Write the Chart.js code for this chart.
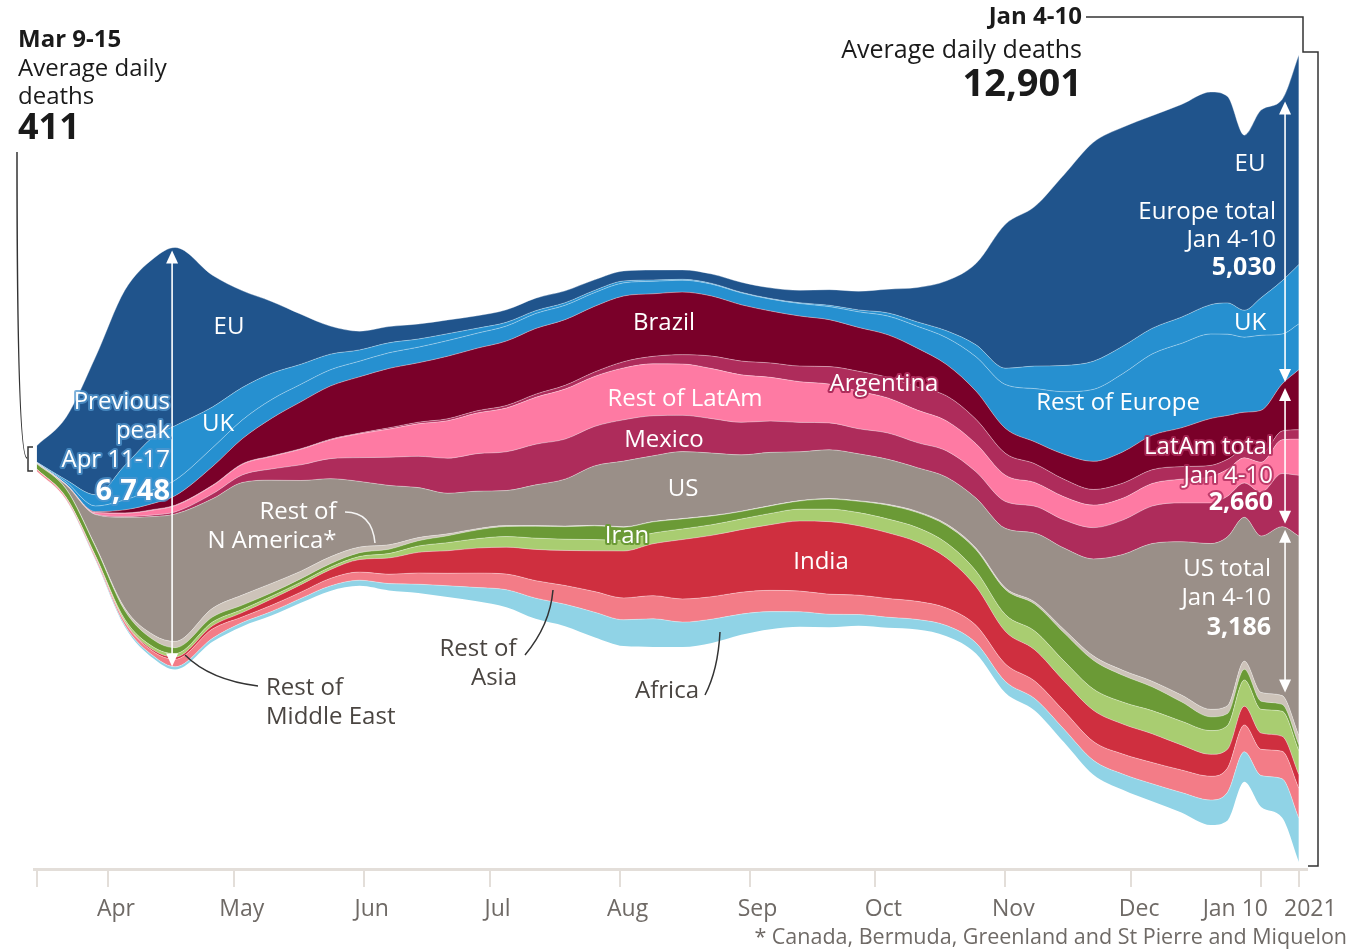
<!DOCTYPE html>
<html>
<head>
<meta charset="utf-8">
<script src="https://cdn.jsdelivr.net/npm/chart.js@4.4.1/dist/chart.umd.min.js"></script>
<style>
  html, body { margin: 0; padding: 0; background: #fff; }
  #wrap { position: relative; width: 1352px; height: 950px; }
</style>
</head>
<body>
<div id="wrap"><canvas id="chart" width="1352" height="950"></canvas></div>
<script>
// week-ending dates of the 7-day averages (average daily deaths)
const dates = [
  '2020-03-15','2020-03-22','2020-03-29','2020-04-05','2020-04-12','2020-04-17','2020-04-26',
  '2020-05-03','2020-05-10','2020-05-17','2020-05-24','2020-05-31',
  '2020-06-07','2020-06-14','2020-06-21','2020-06-28',
  '2020-07-05','2020-07-12','2020-07-19','2020-07-26',
  '2020-08-02','2020-08-09','2020-08-16','2020-08-23','2020-08-30',
  '2020-09-06','2020-09-13','2020-09-20','2020-09-27',
  '2020-10-04','2020-10-11','2020-10-18','2020-10-25',
  '2020-11-01','2020-11-08','2020-11-15','2020-11-22','2020-11-29',
  '2020-12-06','2020-12-13','2020-12-20','2020-12-24','2020-12-28',
  '2021-01-01','2021-01-06','2021-01-10'
];

const eu = [262,1000,2200,2800,2850,2850,2100, 1550,1150,800,450,300, 260,240,220,200, 200,200,190,170, 160,160,150,150,160, 170,200,250,300, 380,550,800,1300, 2300,2550,3050,3500,3500, 3400,3400,3400,3300,2800, 3000,2900,3350];
const uk = [3,35,180,550,850,870,650, 520,420,320,250,180, 160,130,110,80, 60,45,40,35, 30,20,15,12,10, 10,12,20,30, 50,70,110,190, 260,360,420,450,440, 410,420,470,500,430, 600,850,950];
const restEurope = [10,35,90,160,220,250,300, 300,300,280,260,250, 250,250,250,240, 240,240,230,220, 210,200,190,190,190, 190,200,210,250, 300,350,430,550, 700,850,1000,1150,1250, 1300,1350,1350,1300,1200, 1200,800,730];
const brazil = [0,3,15,50,100,150,300, 400,600,750,850,900, 950,950,1000,1000, 1030,1050,1050,1050, 1050,1000,1000,960,900, 830,800,750,700, 680,620,500,450, 400,350,400,450,500, 550,620,750,700,600, 700,750,960];
const argentina = [0,0,2,5,8,8,8, 8,8,8,10,12, 20,25,30,35, 40,50,60,70, 100,120,150,200,220, 230,250,280,320, 330,370,400,390, 350,300,280,250,240, 220,200,180,160,130, 130,140,150];
const restLatAm = [2,8,25,50,80,100,130, 170,200,250,300,380, 450,520,600,650, 700,750,800,800, 830,830,820,800,760, 700,650,620,600, 560,520,480,450, 420,380,370,360,350, 360,380,420,430,400, 480,540,580];
const mexico = [0,1,5,15,25,35,80, 120,180,250,320,380, 450,500,560,600, 620,650,640,630, 660,640,580,550,520, 500,470,430,400, 420,400,420,420, 430,430,450,500,550, 600,620,650,650,550, 700,850,970];
const us = [10,60,500,1450,1900,2035,1750, 1800,1650,1450,1250,1050, 950,800,650,600, 560,650,750,950, 1050,1050,1070,1000,900, 850,780,780,750, 720,700,750,800, 950,1100,1300,1550,1850, 2200,2450,2650,2700,2300, 2500,2700,3186];
const restNAmerica = [2,5,15,40,80,100,140, 160,150,120,110,90, 70,50,30,20, 15,12,10,8, 7,6,6,6,6, 6,7,9,10, 15,18,22,25, 27,35,55,70,80, 90,110,120,125,130, 140,140,150];
const iran = [85,130,140,140,115,95,80, 70,55,55,55,60, 70,85,110,140, 160,190,200,220, 210,180,160,140,120, 120,130,160,180, 220,240,280,340, 400,430,450,460,430, 380,310,220,190,170, 130,110,95];
const restMiddleEast = [5,10,20,35,50,55,60, 50,45,40,40,50, 70,100,130,150, 170,180,180,180, 170,170,170,170,170, 180,190,200,210, 220,230,240,250, 270,300,320,340,350, 370,380,380,380,420, 380,400,380];
const india = [0,1,3,8,25,35,50, 70,100,120,140,200, 260,330,360,400, 430,500,560,650, 750,830,950,980,1000, 1050,1120,1160,1110, 1050,950,800,620, 520,500,480,500,480, 460,400,350,300,300, 260,240,220];
const restAsia = [30,25,35,50,70,120,150, 90,100,100,120,130, 150,180,200,230, 250,280,300,330, 350,370,370,360,350, 340,330,320,310, 300,290,280,280, 280,280,290,300,320, 340,360,380,390,430, 420,440,480];
const africa = [2,5,12,25,40,45,55, 60,65,70,80,90, 110,140,180,220, 280,330,350,400, 420,450,400,380,330, 280,240,210,180, 170,160,170,170, 180,190,210,230,250, 280,320,400,450,480, 500,620,700];

// x axis ticks (days since 1 Mar 2020)
const tickDays = [14, 31, 61, 92, 122, 153, 184, 214, 245, 275, 306, 315];
const tickLabels = ['', 'Apr', 'May', 'Jun', 'Jul', 'Aug', 'Sep', 'Oct', 'Nov', 'Dec', '', ''];

// stacking order, bottom to top
const layers = [
  { label: 'Africa', data: africa, color: '#90d3e6' },
  { label: 'Rest of Asia', data: restAsia, color: '#f37c87' },
  { label: 'India', data: india, color: '#cf2f3f' },
  { label: 'Rest of Middle East', data: restMiddleEast, color: '#a9cd71' },
  { label: 'Iran', data: iran, color: '#6b9a36' },
  { label: 'Rest of N America', data: restNAmerica, color: '#cdc3b9' },
  { label: 'US', data: us, color: '#9a8f88' },
  { label: 'Mexico', data: mexico, color: '#ae2c5b' },
  { label: 'Rest of LatAm', data: restLatAm, color: '#fe7aa3' },
  { label: 'Argentina', data: argentina, color: '#ae2c5b' },
  { label: 'Brazil', data: brazil, color: '#7a0029' },
  { label: 'Rest of Europe', data: restEurope, color: '#2690d0' },
  { label: 'UK', data: uk, color: '#2690d0' },
  { label: 'EU', data: eu, color: '#20548c' }
];

const t0 = Date.UTC(2020, 2, 1);
const days = dates.map(d => {
  const [y, m, dd] = d.split('-').map(Number);
  return (Date.UTC(y, m - 1, dd) - t0) / 864e5;
});
const totals = days.map((_, i) => layers.reduce((s, l) => s + l.data[i], 0));

const datasets = [{
  label: 'base',
  data: days.map((d, i) => ({ x: d, y: -totals[i] / 2 })),
  borderWidth: 0, pointRadius: 0, fill: false,
  cubicInterpolationMode: 'monotone'
}].concat(layers.map(l => ({
  label: l.label,
  data: days.map((d, i) => ({ x: d, y: l.data[i] })),
  backgroundColor: l.color,
  borderColor: 'rgba(255,255,255,0.35)',
  borderWidth: 1,
  pointRadius: 0,
  fill: '-1',
  cubicInterpolationMode: 'monotone'
})));

const FONT = '"Open Sans", "Noto Sans", sans-serif';

function txt(ctx, s, x, y, o) {
  ctx.save();
  ctx.font = (o.bold ? 'bold ' : '') + (o.size || 24) + 'px ' + FONT;
  ctx.textAlign = o.align || 'center';
  ctx.textBaseline = 'middle';
  if (o.halo) {
    ctx.lineJoin = 'round';
    ctx.lineWidth = 4;
    ctx.strokeStyle = o.halo;
    ctx.strokeText(s, x, y);
  }
  ctx.fillStyle = o.color || '#fff';
  ctx.fillText(s, x, y);
  ctx.restore();
}

function arrow(ctx, x, y1, y2) {
  ctx.save();
  ctx.strokeStyle = '#fff';
  ctx.fillStyle = '#fff';
  ctx.lineWidth = 1.6;
  ctx.beginPath(); ctx.moveTo(x, y1 + 6); ctx.lineTo(x, y2 - 6); ctx.stroke();
  ctx.beginPath(); ctx.moveTo(x, y1); ctx.lineTo(x - 6, y1 + 13); ctx.lineTo(x + 6, y1 + 13); ctx.closePath(); ctx.fill();
  ctx.beginPath(); ctx.moveTo(x, y2); ctx.lineTo(x - 6, y2 - 13); ctx.lineTo(x + 6, y2 - 13); ctx.closePath(); ctx.fill();
  ctx.restore();
}

function path(ctx, pts, color, width) {
  ctx.save();
  ctx.strokeStyle = color;
  ctx.lineWidth = width || 1.5;
  ctx.beginPath();
  ctx.moveTo(pts[0][0], pts[0][1]);
  if (pts.length === 3) ctx.quadraticCurveTo(pts[1][0], pts[1][1], pts[2][0], pts[2][1]);
  else pts.slice(1).forEach(p => ctx.lineTo(p[0], p[1]));
  ctx.stroke();
  ctx.restore();
}

const annotations = {
  id: 'annotations',
  afterDraw(chart) {
    const ctx = chart.ctx;
    const xs = chart.scales.x;
    const pts = i => chart.getDatasetMeta(i).data;
    const G = '#6f6a66';

    // x axis labels
    tickDays.forEach((d, i) => {
      if (tickLabels[i]) txt(ctx, tickLabels[i], xs.getPixelForValue(d) + 8, 909, { size: 23, color: G });
    });
    txt(ctx, 'Jan 10', 1268, 909, { size: 23, color: G, align: 'right' });
    txt(ctx, '2021', 1284, 909, { size: 23, color: G, align: 'left' });
    txt(ctx, '* Canada, Bermuda, Greenland and St Pierre and Miquelon', 1347, 938, { size: 21.5, color: G, align: 'right' });

    // start annotation
    const K = '#1a1a1a';
    txt(ctx, 'Mar 9-15', 18, 40, { bold: true, size: 24, color: K, align: 'left' });
    txt(ctx, 'Average daily', 18, 69, { size: 24, color: K, align: 'left' });
    txt(ctx, 'deaths', 18, 97, { size: 24, color: K, align: 'left' });
    txt(ctx, '411', 18, 129, { bold: true, size: 36, color: K, align: 'left' });
    path(ctx, [[17, 152], [17, 458], [27, 458]], '#333');
    path(ctx, [[33, 447], [28, 447], [28, 471], [33, 471]], '#333');

    // end annotation
    txt(ctx, 'Jan 4-10', 1082, 17, { bold: true, size: 24, color: K, align: 'right' });
    txt(ctx, 'Average daily deaths', 1082, 51, { size: 25, color: K, align: 'right' });
    txt(ctx, '12,901', 1082, 85, { bold: true, size: 38, color: K, align: 'right' });
    path(ctx, [[1086, 17], [1303, 17], [1303, 52], [1318, 52], [1318, 866], [1308, 866]], '#333');

    // previous peak arrow (Apr 11-17)
    const pk = dates.indexOf('2020-04-17');
    arrow(ctx, pts(14)[pk].x - 3, pts(14)[pk].y + 3, pts(0)[pk].y - 3);

    // totals at the end
    const e = dates.indexOf('2021-01-06');
    const ax = pts(14)[e].x + 3;
    arrow(ctx, ax, pts(14)[e].y + 2, pts(11)[e].y - 2);
    arrow(ctx, ax, pts(11)[e].y + 4, pts(7)[e].y - 3);
    arrow(ctx, ax, pts(7)[e].y + 3, pts(6)[e].y - 3);

    // in-stream labels
    const W = { size: 24 };
    const blueHalo = 'rgba(80,150,205,0.75)';
    const magHalo = 'rgba(174,44,91,0.8)';
    txt(ctx, 'EU', 229, 327, W);
    txt(ctx, 'UK', 218, 424, W);
    txt(ctx, 'Previous', 170, 402, { size: 24, align: 'right', halo: blueHalo });
    txt(ctx, 'peak', 170, 431, { size: 24, align: 'right', halo: blueHalo });
    txt(ctx, 'Apr 11-17', 170, 460, { size: 24, align: 'right', halo: blueHalo });
    txt(ctx, '6,748', 170, 492, { bold: true, size: 29, align: 'right', halo: blueHalo });
    txt(ctx, 'Brazil', 664, 323, W);
    txt(ctx, 'Rest of LatAm', 685, 399, W);
    txt(ctx, 'Argentina', 884, 384, { size: 24, halo: '#ae2c5b' });
    txt(ctx, 'Mexico', 664, 440, W);
    txt(ctx, 'US', 683, 489, W);
    txt(ctx, 'Rest of', 298, 512, W);
    txt(ctx, 'N America*', 272, 541, W);
    txt(ctx, 'Iran', 627, 536, { size: 24, halo: '#6b9a36' });
    txt(ctx, 'India', 821, 562, W);
    txt(ctx, 'EU', 1250, 164, W);
    txt(ctx, 'Europe total', 1276, 212, { size: 24, align: 'right' });
    txt(ctx, 'Jan 4-10', 1276, 240, { size: 24, align: 'right' });
    txt(ctx, '5,030', 1276, 268, { bold: true, size: 25, align: 'right' });
    txt(ctx, 'UK', 1250, 323, W);
    txt(ctx, 'Rest of Europe', 1118, 403, W);
    txt(ctx, 'LatAm total', 1273, 447, { size: 24, align: 'right', halo: magHalo });
    txt(ctx, 'Jan 4-10', 1273, 476, { size: 24, align: 'right', halo: magHalo });
    txt(ctx, '2,660', 1273, 503, { bold: true, size: 25, align: 'right', halo: magHalo });
    txt(ctx, 'US total', 1271, 569, { size: 24, align: 'right' });
    txt(ctx, 'Jan 4-10', 1271, 598, { size: 24, align: 'right' });
    txt(ctx, '3,186', 1271, 628, { bold: true, size: 25, align: 'right' });

    // outside labels with leader lines
    const D = { size: 24, color: '#4a4541' };
    txt(ctx, 'Rest of', 478, 649, D);
    txt(ctx, 'Asia', 494, 678, D);
    path(ctx, [[525, 655], [550, 625], [553, 590]], '#333');
    txt(ctx, 'Africa', 667, 691, D);
    path(ctx, [[705, 695], [718, 670], [720, 632]], '#333');
    txt(ctx, 'Rest of', 266, 688, { size: 24, color: '#4a4541', align: 'left' });
    txt(ctx, 'Middle East', 266, 717, { size: 24, color: '#4a4541', align: 'left' });
    path(ctx, [[258, 686], [210, 680], [185, 655]], '#333');
    path(ctx, [[345, 512], [372, 512], [375, 543]], 'rgba(255,255,255,0.9)', 1.5);
  }
};

new Chart(document.getElementById('chart'), {
  type: 'line',
  data: { datasets },
  options: {
    responsive: false,
    animation: false,
    layout: { padding: { left: 34, right: 45, top: 48, bottom: 63 } },
    plugins: { legend: { display: false }, tooltip: { enabled: false } },
    elements: { point: { radius: 0 }, line: { borderJoinStyle: 'round' } },
    scales: {
      x: {
        type: 'linear',
        min: 13.35,
        max: 316.95,
        afterBuildTicks: s => { s.ticks = tickDays.map(v => ({ value: v })); },
        ticks: { display: false },
        grid: { drawOnChartArea: false, drawTicks: true, tickLength: 18, color: '#e3ded9', lineWidth: 2 },
        border: { display: true, color: '#e3ded9', width: 3 }
      },
      y: {
        display: false,
        stacked: 'single',
        min: -6563,
        max: 6563
      }
    }
  },
  plugins: [annotations]
});
</script>
</body>
</html>
